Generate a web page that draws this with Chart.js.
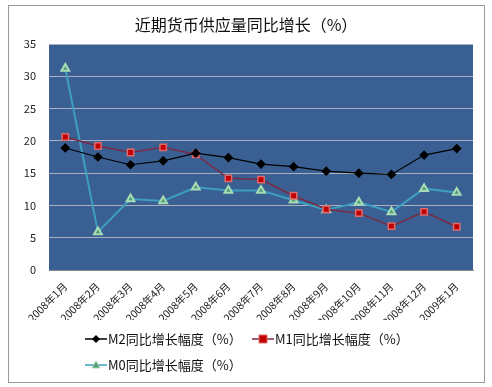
<!DOCTYPE html>
<html>
<head>
<meta charset="utf-8">
<script src="https://cdn.jsdelivr.net/npm/chart.js@4/dist/chart.umd.min.js"></script>
<style>
  html, body { margin: 0; padding: 0; background: #fff; }
  #wrap { width: 492px; height: 387px; }
</style>
</head>
<body>
<div id="wrap"><canvas id="chart" width="492" height="387"></canvas></div>
<script>
// Data
const months = ['2008年1月','2008年2月','2008年3月','2008年4月','2008年5月','2008年6月','2008年7月',
  '2008年8月','2008年9月','2008年10月','2008年11月','2008年12月','2009年1月'];
const m2 = [18.9, 17.5, 16.3, 16.9, 18.1, 17.4, 16.4, 16.0, 15.3, 15.0, 14.8, 17.8, 18.8];
const m1 = [20.6, 19.2, 18.2, 19.0, 17.9, 14.2, 14.0, 11.5, 9.4, 8.8, 6.8, 9.0, 6.7];
const m0 = [31.2, 5.9, 11.0, 10.7, 12.8, 12.3, 12.3, 10.8, 9.3, 10.5, 9.0, 12.6, 12.0];
const yTicks = [0, 5, 10, 15, 20, 25, 30, 35];

const titleText = '近期货币供应量同比增长（%）';
const FONT = '"Noto Sans CJK SC", "DejaVu Sans", sans-serif';

// frame, plot background, title and legend drawn by hand
const decor = {
  id: 'decor',
  beforeDraw(chart){
    const ctx = chart.ctx;
    const a = chart.chartArea;
    ctx.save();
    ctx.fillStyle = '#fff';
    ctx.fillRect(0, 0, chart.width, chart.height);
    ctx.strokeStyle = '#9a9a9a';
    ctx.lineWidth = 1;
    ctx.strokeRect(8.5, 5.5, 476, 377);
    ctx.fillStyle = '#3a5f92';
    ctx.fillRect(a.left, a.top, a.right - a.left, a.bottom - a.top);
    ctx.fillStyle = '#111';
    ctx.font = '16px ' + FONT;
    ctx.textAlign = 'center';
    ctx.textBaseline = 'middle';
    ctx.fillText(titleText, 246, 25);
    ctx.restore();
  },
  afterDraw(chart){
    const ctx = chart.ctx;
    ctx.save();
    ctx.font = '13px ' + FONT;
    ctx.textBaseline = 'middle';
    ctx.fillStyle = '#111';
    const items = [
      { ds: 0, x: 85, y: 339 },
      { ds: 1, x: 252, y: 339 },
      { ds: 2, x: 85, y: 365 }
    ];
    items.forEach(it => {
      const d = chart.data.datasets[it.ds];
      ctx.strokeStyle = d.borderColor;
      ctx.lineWidth = 1.5;
      ctx.beginPath();
      ctx.moveTo(it.x, it.y);
      ctx.lineTo(it.x + 22, it.y);
      ctx.stroke();
      drawMarker(ctx, d.pointStyle, it.x + 11, it.y, d.pointBackgroundColor, d.pointBorderColor);
      ctx.fillStyle = '#111';
      ctx.fillText(d.label, it.x + 23, it.y);
    });
    ctx.restore();
  }
};

function drawMarker(ctx, style, x, y, fill, stroke){
  ctx.fillStyle = fill;
  ctx.strokeStyle = stroke;
  ctx.lineWidth = 1;
  ctx.beginPath();
  if(style === 'rectRot'){
    ctx.moveTo(x, y - 3.5); ctx.lineTo(x + 3.5, y); ctx.lineTo(x, y + 3.5); ctx.lineTo(x - 3.5, y);
  } else if(style === 'rect'){
    ctx.rect(x - 4, y - 4, 8, 8);
  } else {
    ctx.moveTo(x, y - 4); ctx.lineTo(x + 4, y + 3); ctx.lineTo(x - 4, y + 3);
  }
  ctx.closePath();
  ctx.fill();
  ctx.stroke();
}

new Chart(document.getElementById('chart').getContext('2d'), {
  type: 'line',
  data: {
    labels: months,
    datasets: [
      { label: 'M2同比增长幅度（%）', data: m2, borderColor: '#000000', borderWidth: 1.2,
        pointStyle: 'rectRot', pointRadius: 4, pointBackgroundColor: '#000', pointBorderColor: '#000' },
      { label: 'M1同比增长幅度（%）', data: m1, borderColor: '#7b2a45', borderWidth: 1.5,
        pointStyle: 'rect', pointRadius: 4.5, pointBackgroundColor: '#c00000', pointBorderColor: '#e06a6a' },
      { label: 'M0同比增长幅度（%）', data: m0, borderColor: '#3d9fc0', borderWidth: 2,
        pointStyle: 'triangle', pointRadius: 4.5, pointBackgroundColor: '#4f9a78', pointBorderColor: '#a8dcb4' }
    ]
  },
  options: {
    responsive: false,
    animation: false,
    layout: { padding: { left: 8, right: 19, top: 44, bottom: 67 } },
    plugins: { legend: { display: false }, title: { display: false }, tooltip: { enabled: false } },
    elements: { line: { tension: 0 } },
    scales: {
      x: {
        offset: true,
        grid: { display: false },
        border: { color: '#888' },
        ticks: { maxRotation: 45, minRotation: 45, autoSkip: false, color: '#222', font: { family: FONT, size: 10.5 }, padding: 2 },
        afterFit(s){ s.height = 50; }
      },
      y: {
        min: 0, max: 35,
        afterBuildTicks(s){ s.ticks = yTicks.map(v => ({ value: v })); },
        grid: { color: '#a9b1bf', drawTicks: false },
        border: { display: false },
        ticks: { color: '#222', font: { family: FONT, size: 11 }, padding: 13 },
        afterFit(s){ s.width = 41; }
      }
    }
  },
  plugins: [decor]
});
</script>
</body>
</html>
